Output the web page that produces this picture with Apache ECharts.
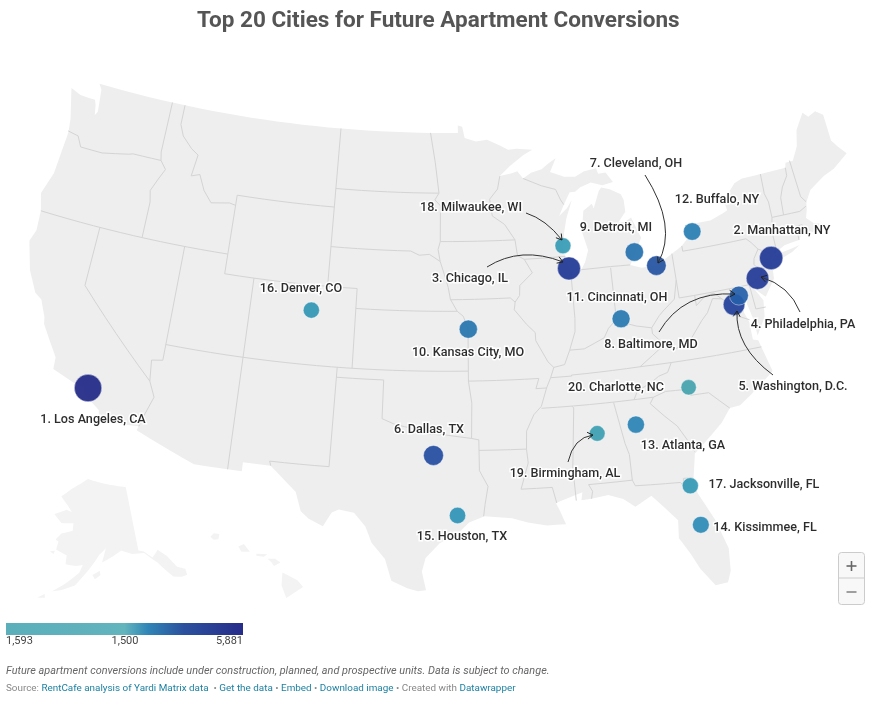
<!DOCTYPE html>
<html><head><meta charset="utf-8">
<style>html,body{margin:0;padding:0;background:#fff}#c{width:880px;height:706px}</style>
<script src="https://cdn.jsdelivr.net/npm/echarts@6/dist/echarts.min.js"></script>
</head><body><div id="c"></div>
<script>
const cityNames=["Los Angeles, CA","Manhattan, NY","Chicago, IL","Philadelphia, PA","Washington, D.C.","Dallas, TX","Cleveland, OH","Baltimore, MD","Detroit, MI","Kansas City, MO","Cincinnati, OH","Buffalo, NY","Atlanta, GA","Kissimmee, FL","Houston, TX","Denver, CO","Jacksonville, FL","Milwaukee, WI","Birmingham, AL","Charlotte, NC"];
const cityLon=[-118.24,-73.97,-87.63,-75.16,-77.04,-96.8,-81.69,-76.61,-83.05,-94.58,-84.51,-78.88,-84.39,-81.4,-95.37,-104.99,-81.66,-87.91,-86.8,-80.84];
const cityLat=[34.05,40.78,41.88,39.95,38.9,32.78,41.5,39.29,42.33,39.1,39.1,42.89,33.75,28.3,29.76,39.74,30.33,43.04,33.52,35.23];
const cityUnits=[5881,4150,3990,3840,3470,2916,2790,2590,2410,2350,2295,2175,2060,1950,1850,1800,1780,1740,1680,1593];
const legendLabels=["1,593","1,500","5,881"];
const labelCenters=[[93,420],[782,231],[470,279],[803,325],[793,387],[429,430],[636,164],[651,345],[616,228],[468,353],[617,298],[717,200],[683,446],[765,528],[462,537],[301,289],[764,485],[471,208],[565,474],[616,388]];
const arrowPaths=[[645,175,678,227,658,263],[526,213,546,219.5,562,240],[487,267,521,245.5,563,262],[659,332,683,291,735,294],[800,312,789.5,285.5,761,277],[773,375,735,347,737,311],[568,462,573.5,437.5,593,435]];
const colorStops=[[1593,'#45a3ae'],[1750,'#359cb6'],[1900,'#2e8eb6'],[2100,'#2a82b6'],[2400,'#2672ae'],[2600,'#255ea9'],[2900,'#244ca0'],[3500,'#213e9a'],[4200,'#203694'],[5881,'#1f2887']];

const lower48=[[-124.7,48.38],[-123.9,48.17],[-123.1,48.15],[-122.75,48.15],[-122.6,47.9],[-122.45,47.4],[-122.3,47.6],[-122.4,48.2],[-122.5,48.75],[-122.76,49],[-95.15,49],[-95.15,49.38],[-94.82,49.32],[-94.64,48.74],[-93.8,48.55],[-92.95,48.62],[-92,48.3],[-91.4,48.07],[-90.75,48.1],[-89.6,48],[-90.3,47.75],[-91.3,47.25],[-92.1,46.75],[-91.2,46.87],[-90.8,46.95],[-90.4,46.57],[-89.8,46.83],[-89,46.98],[-88.45,47.25],[-87.9,47.47],[-88.25,47.0],[-88.4,46.8],[-87.4,46.5],[-86.6,46.45],[-85.9,46.68],[-85,46.77],[-84.9,46.48],[-84.35,46.5],[-84.1,46.2],[-83.9,45.97],[-84.7,45.87],[-85.5,46.08],[-86.3,45.9],[-86.7,45.7],[-87.1,45.7],[-87.6,45.1],[-88,44.55],[-87.4,44.9],[-87,45.3],[-87.5,44.4],[-87.75,43.7],[-87.9,43],[-87.8,42.3],[-87.6,41.85],[-87.3,41.62],[-86.8,41.77],[-86.5,42.1],[-86.2,42.7],[-86.5,43.65],[-86.25,44.7],[-85.6,45],[-85.5,44.75],[-85,45.6],[-84.8,45.77],[-84.2,45.63],[-83.45,45.3],[-83.3,45],[-83.3,44.4],[-83.9,43.9],[-83.4,43.9],[-82.95,44.07],[-82.45,43],[-82.9,42.4],[-83.15,42.05],[-83.45,41.72],[-82.7,41.5],[-81.7,41.5],[-80.5,41.97],[-79.76,42.27],[-78.9,42.85],[-79.05,43.27],[-77.5,43.27],[-76.5,43.5],[-76.2,43.6],[-76.3,44.1],[-75.3,44.85],[-74.7,45],[-71.5,45.01],[-71.4,45.25],[-70.85,45.25],[-70.3,45.9],[-70,46.7],[-69.23,47.46],[-68.9,47.18],[-68.3,47.35],[-67.8,47.07],[-67.8,45.7],[-67.45,45.3],[-67,44.85],[-68.2,44.3],[-69,44.1],[-70.2,43.6],[-70.7,43.05],[-70.8,42.7],[-71,42.3],[-70.6,41.95],[-70,41.8],[-70.2,42.07],[-69.95,41.7],[-70.65,41.55],[-71.2,41.48],[-71.4,41.75],[-71.85,41.32],[-72.9,41.25],[-73.7,40.95],[-74,40.7],[-74,40.45],[-74.1,39.75],[-74.9,38.95],[-75.55,39.5],[-75.1,38.8],[-75.25,38],[-75.95,37.15],[-76,38],[-76.2,38.8],[-76.05,39.45],[-76.45,39.15],[-76.5,38.4],[-76.3,37.9],[-76.3,37],[-75.98,36.9],[-75.5,35.25],[-76.5,34.65],[-77.9,33.9],[-78.55,33.85],[-79.2,33.2],[-80.5,32.3],[-81.1,31.9],[-81.4,30.7],[-81.3,29.9],[-80.55,28.45],[-80.05,26.9],[-80.15,25.75],[-80.4,25.2],[-81.1,25.15],[-81.8,26.1],[-82.2,26.9],[-82.75,27.8],[-82.65,28.7],[-83.4,29.5],[-84,30.1],[-85,29.65],[-85.65,30.1],[-86.5,30.38],[-87.5,30.28],[-88.1,30.25],[-88,30.65],[-88.9,30.4],[-89.6,30.2],[-89.4,29.8],[-89.1,29.1],[-90.2,29.1],[-91.3,29.3],[-92.2,29.55],[-93.8,29.7],[-94.7,29.4],[-95.3,28.9],[-96.4,28.35],[-97.2,27.6],[-97.4,26.9],[-97.15,25.96],[-97.6,25.9],[-98.2,26.05],[-99.1,26.4],[-99.5,27.5],[-100.3,28.3],[-100.7,29.1],[-101.4,29.77],[-102.3,29.88],[-102.7,29.7],[-103.15,28.98],[-104,29.3],[-104.5,29.65],[-104.9,30.6],[-106,31.4],[-106.53,31.78],[-108.2,31.78],[-108.2,31.33],[-111.07,31.33],[-114.8,32.5],[-114.72,32.72],[-117.12,32.53],[-117.3,33.1],[-118.4,33.75],[-118.5,34.03],[-119.2,34.15],[-120.6,34.55],[-120.65,35.15],[-121.9,36.6],[-122,36.95],[-122.5,37.75],[-123,38],[-123.75,39],[-124.35,40.4],[-124.1,41],[-124.2,42],[-124.55,42.85],[-124.1,44],[-123.95,46.2],[-124.1,46.9],[-124.7,48.38]];
const longIsland=[[-74,40.6],[-73.7,40.88],[-72.6,40.98],[-71.9,41.07],[-72.5,40.82],[-73.5,40.58],[-74,40.6]];
const alaska=[[-141,69.65],[-141,60.3],[-139.5,60],[-137.5,58.9],[-135.5,59.75],[-133.5,58.5],[-131.8,56.6],[-130,55.9],[-130.1,55],[-131.5,55],[-133.5,55.4],[-134.8,56.5],[-136.5,58],[-139.5,59.8],[-143,60],[-146,60.7],[-148.5,60],[-151.8,59.2],[-150.5,61.2],[-152.5,60.3],[-154,59.2],[-156.5,57.5],[-159,55.8],[-162.5,54.9],[-164.5,54.6],[-161.5,55.9],[-158,57.7],[-157.2,58.8],[-159,58.6],[-162,58.7],[-162,60],[-165.3,60.6],[-165,61.8],[-166,62],[-164.5,63],[-161,63.6],[-161,64.7],[-165,64.5],[-168,65.6],[-164,66.5],[-162,66.3],[-163.7,67.1],[-166.8,68.3],[-163,69.7],[-156.7,71.3],[-152,70.8],[-146,70.2],[-141,69.65]];
const alaskaIslands=[[[-154.5,57.4],[-152.5,58],[-152.3,57.4],[-153.8,56.8],[-154.5,57.4]],[[-167.8,53.3],[-166.2,54],[-166,53.5],[-167.8,53.3]],[[-167,60.2],[-165.6,60.4],[-165.8,59.9],[-167,60.2]]];
const hawaii=[[[-159.78,22.05],[-159.6,22.23],[-159.3,22.2],[-159.35,21.93],[-159.6,21.9],[-159.78,22.05]],[[-158.27,21.57],[-157.97,21.7],[-157.65,21.3],[-158.1,21.3],[-158.27,21.57]],[[-157.3,21.2],[-156.7,21.17],[-156.9,21.05],[-157.3,21.1],[-157.3,21.2]],[[-156.7,20.95],[-156.3,20.95],[-156,20.75],[-156.35,20.58],[-156.5,20.78],[-156.7,20.95]],[[-155.9,20.25],[-155.1,19.85],[-154.8,19.5],[-155.7,18.95],[-155.95,19.6],[-155.9,20.25]]];
const stateBorders=[
[[-124,46.25],[-123.2,46.15],[-122.8,45.65],[-121.2,45.65],[-119.3,45.93],[-119,46],[-116.92,46]],
[[-117.03,49],[-117.04,46.42],[-116.92,46],[-116.46,45.6],[-116.85,45],[-117.2,44.4],[-117.03,43.83],[-117.03,42]],
[[-124.2,42],[-111.05,42]],
[[-116.05,49],[-116.05,48],[-115.7,47.45],[-114.9,46.9],[-114.35,46.65],[-114.55,45.55],[-113.95,45.7],[-113.45,44.95],[-112.8,44.4],[-111.5,44.55],[-111.05,44.48]],
[[-111.05,45],[-111.05,41],[-109.05,41]],[[-111.05,45],[-104.05,45]],[[-109.05,41],[-102.05,41]],[[-104.05,49],[-104.05,41]],
[[-109.05,41],[-109.05,31.33]],[[-102.05,41],[-102.05,37]],[[-114.05,37],[-94.62,37]],
[[-114.05,42],[-114.05,36.2],[-114.75,36.1],[-114.6,35.05]],[[-120,42],[-120,39],[-114.6,35.05],[-114.15,34.3],[-114.5,33.4],[-114.72,32.72]],
[[-103,37],[-103.05,32],[-106.62,32],[-106.53,31.78]],
[[-103,36.5],[-100,36.5],[-100,34.56],[-99.2,34.3],[-98,34.1],[-97.2,33.85],[-96,33.8],[-94.5,33.63],[-94.04,33.55],[-94.04,32],[-93.55,31.2],[-93.75,30.3],[-93.85,29.7]],
[[-104.05,45.94],[-96.56,45.94]],[[-104.05,43],[-98.5,43],[-97.9,42.8],[-97.2,42.85],[-96.45,42.5],[-96.1,41.7],[-95.9,41.2],[-95.75,40.6],[-95.3,40],[-94.9,39.75],[-94.6,39.1],[-94.62,36.5],[-94.43,35.4],[-94.48,33.63]],
[[-102.05,40],[-95.3,40]],
[[-97.23,49],[-96.85,47.5],[-96.56,45.94],[-96.85,45.6],[-96.45,45.3],[-96.45,43.5],[-96.6,43.1],[-96.45,42.5]],
[[-96.45,43.5],[-91.22,43.5]],[[-95.75,40.58],[-91.73,40.6],[-91.42,40.38]],
[[-94.62,36.5],[-90.15,36.5],[-90.37,36],[-89.7,36]],[[-94.04,33.02],[-91.16,33]],
[[-92.1,46.75],[-92.3,46.1],[-92.9,45.6],[-92.75,44.75],[-91.9,44.3],[-91.22,43.5],[-91.1,42.7],[-90.65,42.5],[-90.15,41.8],[-91.05,41.2],[-91.1,40.7],[-91.42,40.38],[-91.5,40],[-90.75,39.25],[-90.2,38.8],[-90.2,38.4],[-89.5,37.3],[-89.15,37],[-89.4,36.5],[-89.7,36],[-90.1,35.1],[-90.6,34.7],[-91.1,33.9],[-91.16,33],[-91.1,32.3],[-91.6,31],[-89.75,31],[-89.55,30.2]],
[[-90.65,42.5],[-87.8,42.5]],[[-90.4,46.57],[-89.1,46.14],[-88.1,45.9],[-87.8,45.35],[-87.6,45.1]],
[[-87.53,41.7],[-87.53,39.35],[-87.6,38.7],[-88,37.9],[-88.05,37.8]],
[[-89.15,37],[-88.45,37.1],[-88.05,37.8],[-87.1,37.8],[-86.5,38],[-85.75,38.25],[-85.4,38.7],[-84.82,39.1],[-84.25,38.85],[-83.6,38.65],[-82.6,38.45],[-82,39],[-81.7,39.2],[-80.85,39.7],[-80.52,40.63]],
[[-84.82,39.1],[-84.8,41.7]],[[-86.8,41.76],[-84.8,41.76],[-83.45,41.72]],
[[-80.52,39.72],[-80.52,41.97]],[[-79.76,42.27],[-79.76,42],[-75.35,42],[-75.05,41.75],[-74.7,41.36],[-75.1,40.95],[-75.2,40.65],[-74.75,40.2],[-75.4,39.8]],
[[-80.52,39.72],[-75.79,39.72],[-75.7,38.46],[-75.05,38.45]],[[-75.79,39.72],[-75.4,39.8]],[[-74.7,41.36],[-73.9,41]],
[[-73.65,41],[-73.5,41.2],[-73.5,42.05],[-73.27,42.75],[-73.25,43.55],[-73.4,44],[-73.34,45.01]],
[[-73.5,42.05],[-71.38,42.02],[-71.2,41.5]],[[-71.8,42.02],[-71.85,41.32]],[[-73.27,42.75],[-72.45,42.73],[-71.3,42.7],[-70.8,42.87]],
[[-72.45,42.73],[-72.35,43.6],[-72.05,44.1],[-71.55,44.6],[-71.5,45.01]],[[-70.7,43.08],[-70.98,43.4],[-71.08,45.3]],
[[-76.25,38],[-76.95,38.3],[-77.05,38.75],[-77.5,39.1],[-77.75,39.3],[-78.2,39.65],[-78.8,39.6],[-79.48,39.2],[-79.48,39.72]],
[[-77.75,39.3],[-78.35,39.4],[-78.85,38.75],[-79.3,38.42],[-80.3,37.5],[-81.2,37.25],[-81.95,37.53],[-82.6,38.15],[-82.6,38.45]],
[[-81.95,37.53],[-83.68,36.6]],[[-75.87,36.55],[-81.68,36.59],[-83.68,36.6],[-88.07,36.55],[-88.07,36.5],[-89.4,36.5]],
[[-81.68,36.59],[-82,36.13],[-82.6,36],[-83.1,35.75],[-84.05,35.4],[-84.32,34.99]],[[-90.1,35],[-83.1,35]],
[[-83.1,35],[-82.3,35.2],[-81.05,35.15],[-80.8,34.82],[-79.67,34.8],[-78.55,33.85]],
[[-83.1,35],[-83.35,34.7],[-82.6,34],[-81.9,33.4],[-81.4,32.6],[-81.1,32]],
[[-85.6,34.98],[-85.18,32.87],[-85,32.3],[-85,31],[-84.86,30.7],[-82.2,30.57],[-82.05,30.36],[-82,30.75],[-81.45,30.72]],
[[-85,31],[-87.6,31],[-87.4,30.65],[-87.5,30.28]],[[-88.2,35],[-88.1,34.9],[-88.45,31.9],[-88.4,30.25]]
];

const rad=Math.PI/180;
function conic(p1,p2,rot){const s=Math.sin(p1*rad),n=(s+Math.sin(p2*rad))/2,c=1-s*s+2*n*s;
  return (lon,lat)=>{const r=Math.sqrt(c-2*n*Math.sin(lat*rad))/n,t=n*(lon+rot)*rad;return [r*Math.sin(t),r*Math.cos(t)];};}
const cL=conic(29.5,45.5,96),cA=conic(55,65,154),cH=conic(8,18,157);
const n48=(Math.sin(29.5*rad)+Math.sin(45.5*rad))/2,c48=1-Math.sin(29.5*rad)**2+2*n48*Math.sin(29.5*rad);
const projection={
  project(p){const lon=p[0],lat=p[1];let q;
    if(lat>52.5&&lon<-129.5){q=cA(lon,lat);return [94.2+397*q[0],327.8+397*q[1]];}
    if(lon<-154.5&&lat<23){q=cH(lon,lat);return [261.9+1134*q[0],1134*q[1]-4195.8];}
    q=cL(lon,lat);return [446.7+1134*q[0],1134*q[1]-1116.6];},
  unproject(p){const X=(p[0]-446.7)/1134,R=(p[1]+1116.6)/1134,t=Math.atan2(X,R),r=Math.hypot(X,R)*n48;
    return [-96+t/rad/n48,Math.asin((c48-r*r)/(2*n48))/rad];}
};
function densify(line){const o=[];for(let i=0;i<line.length-1;i++){const a=line[i],b=line[i+1],k=Math.max(1,Math.ceil(Math.abs(b[0]-a[0])));
  for(let j=0;j<k;j++)o.push([a[0]+(b[0]-a[0])*j/k,a[1]+(b[1]-a[1])*j/k]);}o.push(line[line.length-1]);return o;}
const frame=[[0,0],[880,0],[880,706],[0,706],[0,0]].map(projection.unproject);
const feature=(name,polys)=>({type:'Feature',properties:{name},geometry:{type:'MultiPolygon',coordinates:polys.map(p=>[densify(p)])}});
echarts.registerMap('usa',{type:'FeatureCollection',features:[
  {type:'Feature',properties:{name:'frame'},geometry:{type:'Polygon',coordinates:[frame]}},
  feature('lower48',[lower48,longIsland]),feature('alaska',[alaska,...alaskaIslands]),feature('hawaii',hawaii)]});

function colorFor(v){for(let i=1;i<colorStops.length;i++){if(v<=colorStops[i][0]){const a=colorStops[i-1],b=colorStops[i];
  return echarts.color.lerp((v-a[0])/(b[0]-a[0]),[a[1],b[1]]);}}return colorStops[colorStops.length-1][1];}
const minS=Math.sqrt(Math.min(...cityUnits)),maxS=Math.sqrt(Math.max(...cityUnits));
const sizeFor=v=>2*(7.7+6*(Math.sqrt(v)-minS)/(maxS-minS));

const cityData=cityNames.map((n,i)=>({name:(i+1)+'. '+n,value:[cityLon[i],cityLat[i],cityUnits[i]]}));

const arrows=[];
arrowPaths.forEach(a=>{const [x1,y1,cx,cy,x2,y2]=a;
  arrows.push({type:'bezierCurve',z:50,silent:true,shape:{x1,y1,cpx1:cx,cpy1:cy,x2,y2},style:{stroke:'#333',lineWidth:1,fill:null}});
  const ang=Math.atan2(y2-cy,x2-cx),L=6.5,W=0.55;
  arrows.push({type:'polyline',z:50,silent:true,shape:{points:[[x2-L*Math.cos(ang-W),y2-L*Math.sin(ang-W)],[x2,y2],[x2-L*Math.cos(ang+W),y2-L*Math.sin(ang+W)]]},style:{stroke:'#222',lineWidth:1,fill:null}});});

const F='Roboto';
const chart=echarts.init(document.getElementById('c'),null,{renderer:'canvas'});
chart.setOption({
  animation:false,backgroundColor:'#fff',
  title:{text:'Top 20 Cities for Future Apartment Conversions',left:192,top:5,textStyle:{fontFamily:F,fontSize:22.5,fontWeight:700,color:'#555'}},
  geo:{map:'usa',projection,roam:false,silent:true,layoutCenter:['50%','50%'],layoutSize:880,
    itemStyle:{areaColor:'#eeeeee',borderWidth:0},
    regions:[{name:'frame',itemStyle:{areaColor:'rgba(0,0,0,0)',borderWidth:0}},{name:'alaska',itemStyle:{areaColor:'#f3f3f3'}},{name:'hawaii',itemStyle:{areaColor:'#f3f3f3'}}],
    label:{show:false},emphasis:{disabled:true}},
  series:[
    {type:'lines',coordinateSystem:'geo',polyline:true,silent:true,z:1,
      lineStyle:{color:'#d4d4d4',width:1,opacity:1},data:stateBorders.map(l=>({coords:densify(l)}))},
    {type:'scatter',coordinateSystem:'geo',z:5,silent:true,data:cityData,
      symbol:'circle',symbolSize:v=>sizeFor(v[2]),
      itemStyle:{color:p=>colorFor(p.value[2]),opacity:0.93,borderColor:'rgba(255,255,255,0.45)',borderWidth:1},
      label:{show:true,position:'inside',formatter:'{b}',fontFamily:F,fontSize:12.6,fontWeight:500,color:'#1c1c1c',textBorderColor:'#fff',textBorderWidth:3},
      labelLayout:p=>({x:labelCenters[p.dataIndex][0],y:labelCenters[p.dataIndex][1],align:'center',verticalAlign:'middle',hideOverlap:false}),
      emphasis:{disabled:true}}
  ],
  graphic:[...arrows,
    {type:'rect',z:40,silent:true,shape:{x:6,y:623,width:237,height:12},style:{fill:new echarts.graphic.LinearGradient(0,0,1,0,[{offset:0,color:'#5aafbb'},{offset:0.5,color:'#62b4bd'},{offset:0.6,color:'#2f85b6'},{offset:0.75,color:'#2b519e'},{offset:1,color:'#272c8a'}])}},
    {type:'text',z:40,silent:true,x:6,y:636,style:{text:legendLabels[0],font:'11px '+F,fill:'#444'}},
    {type:'text',z:40,silent:true,x:125,y:636,style:{text:legendLabels[1],font:'11px '+F,fill:'#444',textAlign:'center'}},
    {type:'text',z:40,silent:true,x:243,y:636,style:{text:legendLabels[2],font:'11px '+F,fill:'#444',textAlign:'right'}},
    {type:'text',z:40,silent:true,x:6,y:666,style:{text:'Future apartment conversions include under construction, planned, and prospective units. Data is subject to change.',font:'italic 10.9px '+F,fill:'#666'}},
    {type:'text',z:40,silent:true,x:6,y:684,style:{text:'{g|Source: }{l|RentCafe analysis of Yardi Matrix data}{g|  • }{l|Get the data}{g| • }{l|Embed}{g| • }{l|Download image}{g| • Created with }{l|Datawrapper}',font:'9.9px '+F,rich:{g:{fill:'#888',font:'9.9px '+F},l:{fill:'#1d81a2',font:'9.9px '+F}}}},
    {type:'rect',z:40,silent:true,shape:{x:838.5,y:552.5,width:26,height:52,r:3},style:{fill:'#f8f8f8',stroke:'#ccc',lineWidth:1}},
    {type:'line',z:41,silent:true,shape:{x1:838.5,y1:578,x2:864.5,y2:578},style:{stroke:'#ccc',lineWidth:1}},
    {type:'line',z:41,silent:true,shape:{x1:846.5,y1:566,x2:856.5,y2:566},style:{stroke:'#666',lineWidth:1.6}},
    {type:'line',z:41,silent:true,shape:{x1:851.5,y1:561,x2:851.5,y2:571},style:{stroke:'#666',lineWidth:1.6}},
    {type:'line',z:41,silent:true,shape:{x1:846.5,y1:592,x2:856.5,y2:592},style:{stroke:'#888',lineWidth:1.6}}
  ]
});
</script></body></html>
